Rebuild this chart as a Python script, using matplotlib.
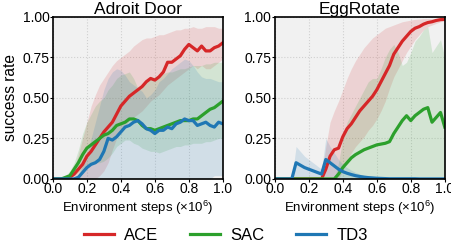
import numpy as np
from matplotlib import pyplot as plt

plt.rcParams['font.family'] = ['Liberation Sans', 'DejaVu Sans']
plt.rcParams['mathtext.fontset'] = 'custom'
plt.rcParams['mathtext.rm'] = 'Liberation Sans'
plt.rcParams['mathtext.it'] = 'Liberation Sans:italic'

# steps (x 1e6), same grid for every curve
steps = np.arange(41) * 0.025

# ---- Adroit Door ----
door_ace = [0, 0, 0, 0, 0.01, 0.03, 0.06, 0.09, 0.14, 0.17, 0.21, 0.25, 0.29, 0.32, 0.35, 0.40, 0.45, 0.48, 0.51, 0.53, 0.55,
            0.57, 0.60, 0.62, 0.61, 0.63, 0.66, 0.72, 0.72, 0.74, 0.76, 0.80, 0.83, 0.81, 0.79, 0.82, 0.79, 0.79, 0.81, 0.82, 0.84]
door_ace_hi = [0, 0, 0, 0, 0.02, 0.07, 0.15, 0.25, 0.35, 0.45, 0.52, 0.58, 0.62, 0.66, 0.70, 0.73, 0.75, 0.77, 0.79, 0.82, 0.84,
               0.86, 0.87, 0.87, 0.88, 0.89, 0.89, 0.90, 0.91, 0.92, 0.92, 0.93, 0.93, 0.94, 0.93, 0.93, 0.94, 0.94, 0.94, 0.93, 0.93]
door_ace_lo = [0, 0, 0, 0, 0, 0, 0, 0, 0, 0, 0, 0.02, 0.05, 0.10, 0.18, 0.25, 0.30, 0.33, 0.36, 0.38, 0.40,
               0.42, 0.45, 0.48, 0.50, 0.52, 0.55, 0.58, 0.60, 0.62, 0.64, 0.66, 0.68, 0.70, 0.68, 0.70, 0.68, 0.68, 0.70, 0.72, 0.74]

door_sac = [0, 0, 0, 0.01, 0.02, 0.06, 0.10, 0.15, 0.19, 0.21, 0.23, 0.25, 0.27, 0.28, 0.30, 0.33, 0.34, 0.35, 0.37, 0.37, 0.36,
            0.33, 0.31, 0.31, 0.30, 0.31, 0.32, 0.33, 0.34, 0.35, 0.36, 0.36, 0.36, 0.37, 0.37, 0.39, 0.41, 0.43, 0.44, 0.46, 0.48]
door_sac_hi = [0, 0, 0, 0.02, 0.05, 0.10, 0.18, 0.28, 0.35, 0.40, 0.45, 0.48, 0.50, 0.55, 0.58, 0.62, 0.64, 0.65, 0.66, 0.62, 0.56,
               0.58, 0.60, 0.62, 0.63, 0.64, 0.65, 0.66, 0.66, 0.67, 0.68, 0.68, 0.69, 0.70, 0.70, 0.70, 0.71, 0.71, 0.72, 0.72, 0.72]
door_sac_lo = [0, 0, 0, 0, 0, 0.02, 0.04, 0.06, 0.08, 0.09, 0.10, 0.10, 0.11, 0.13, 0.16, 0.20, 0.22, 0.24, 0.24, 0.22, 0.21,
               0.19, 0.18, 0.17, 0.17, 0.16, 0.17, 0.18, 0.19, 0.20, 0.20, 0.21, 0.21, 0.22, 0.22, 0.22, 0.23, 0.23, 0.24, 0.25, 0.25]

door_td3 = [0, 0, 0, 0, 0, 0, 0.01, 0.04, 0.07, 0.09, 0.10, 0.12, 0.17, 0.25, 0.24, 0.26, 0.29, 0.32, 0.33, 0.35, 0.36,
            0.34, 0.31, 0.30, 0.28, 0.30, 0.30, 0.32, 0.31, 0.34, 0.35, 0.37, 0.36, 0.36, 0.33, 0.34, 0.35, 0.33, 0.32, 0.35, 0.34]
door_td3_hi = [0, 0, 0, 0, 0, 0.01, 0.03, 0.08, 0.15, 0.25, 0.35, 0.45, 0.55, 0.62, 0.66, 0.68, 0.67, 0.64, 0.60, 0.58, 0.56,
               0.54, 0.50, 0.52, 0.55, 0.60, 0.62, 0.65, 0.68, 0.70, 0.72, 0.74, 0.73, 0.70, 0.66, 0.63, 0.62, 0.62, 0.61, 0.60, 0.60]
door_td3_lo = [0] * 38 + [0.02, 0.02, 0.02]

# ---- EggRotate ----
egg_ace = [0] * 12 + [0.06, 0.14, 0.18, 0.19, 0.26, 0.31, 0.34, 0.38, 0.42, 0.45, 0.48, 0.51, 0.55, 0.60, 0.65,
                      0.70, 0.77, 0.81, 0.85, 0.88, 0.91, 0.93, 0.94, 0.955, 0.965, 0.97, 0.978, 0.983, 0.985]
egg_ace_hi = [0] * 11 + [0.02, 0.20, 0.35, 0.42, 0.48, 0.55, 0.62, 0.68, 0.73, 0.77, 0.81, 0.84, 0.87, 0.89, 0.91, 0.93,
                         0.94, 0.95, 0.96, 0.97, 0.975, 0.98, 0.985, 0.987, 0.99, 0.99, 0.99, 0.99, 0.99, 0.99]
egg_ace_lo = [0] * 16 + [0.05, 0.12, 0.16, 0.20, 0.23, 0.26, 0.30, 0.33, 0.37, 0.42, 0.48, 0.56, 0.63, 0.68, 0.73,
                         0.78, 0.82, 0.86, 0.89, 0.92, 0.94, 0.95, 0.96, 0.97, 0.975]

egg_sac = [0] * 15 + [0.03, 0.07, 0.10, 0.13, 0.15, 0.165, 0.18, 0.19, 0.20, 0.21, 0.215, 0.22, 0.23, 0.28, 0.32,
                      0.36, 0.39, 0.36, 0.39, 0.41, 0.43, 0.44, 0.35, 0.38, 0.41, 0.32]
egg_sac_hi = [0] * 15 + [0.10, 0.25, 0.35, 0.40, 0.45, 0.50, 0.55, 0.60, 0.62, 0.62, 0.68, 0.75, 0.80, 0.83, 0.78,
                         0.70, 0.72, 0.78, 0.85, 0.88, 0.92, 0.94, 0.78, 0.82, 0.86, 0.75]
egg_sac_lo = [0] * 41

egg_td3 = [0] * 5 + [0.10, 0.085, 0.07, 0.06, 0.05, 0.04, 0.03, 0.12, 0.10, 0.08, 0.06, 0.045, 0.035, 0.027, 0.02,
                     0.015, 0.011, 0.008, 0.006, 0.004, 0.003, 0.002] + [0.001] * 7 + [0] * 7
egg_td3_hi = [0] * 5 + [0.20, 0.17, 0.14, 0.12, 0.10, 0.08, 0.06, 0.25, 0.20, 0.16, 0.12, 0.09, 0.07, 0.054, 0.04,
                        0.03, 0.022, 0.016, 0.012, 0.008, 0.006, 0.004] + [0] * 14
egg_td3_lo = [0] * 41

methods = ["ACE", "SAC", "TD3"]
colors = ["#d62728", "#2ca02c", "#1f77b4"]

panels = [
    ("Adroit Door", [(door_ace, door_ace_lo, door_ace_hi),
                     (door_sac, door_sac_lo, door_sac_hi),
                     (door_td3, door_td3_lo, door_td3_hi)]),
    ("EggRotate", [(egg_ace, egg_ace_lo, egg_ace_hi),
                   (egg_sac, egg_sac_lo, egg_sac_hi),
                   (egg_td3, egg_td3_lo, egg_td3_hi)]),
]

fig = plt.figure(figsize=(4.52, 2.52), dpi=100)
ax_left = [0.117, 0.608]

for i, (title, curves) in enumerate(panels):
    ax = fig.add_axes([ax_left[i], 0.29, 0.376, 0.643])
    ax.set_facecolor("#f1f1f1")
    ax.grid(True, color="#d0d0d0", linestyle=":", linewidth=0.8)
    ax.set_axisbelow(True)
    for (mean, lo, hi), c, name in zip(curves, colors, methods):
        ax.fill_between(steps, lo, hi, color=c, alpha=0.15, linewidth=0)
        ax.plot(steps, mean, color=c, linewidth=2.3, label=name)
    ax.set_xlim(0, 1)
    ax.set_ylim(0, 1)
    ax.set_xticks([0, 0.2, 0.4, 0.6, 0.8, 1.0])
    ax.set_yticks([0, 0.25, 0.5, 0.75, 1.0])
    ax.set_xticklabels(["0.0", "0.2", "0.4", "0.6", "0.8", "1.0"])
    ax.set_yticklabels(["0.00", "0.25", "0.50", "0.75", "1.00"])
    ax.tick_params(labelsize=10, length=2, pad=0.5)
    ax.set_title(title, fontsize=12.5, pad=2)
    ax.set_xlabel(r"Environment steps ($\times\mathregular{10^6}$)", fontsize=9.5, labelpad=1.5)
    for s in ax.spines.values():
        s.set_linewidth(1.2)
    if i == 0:
        ax.set_ylabel("success rate", fontsize=11.2, labelpad=3)

handles, labels = ax.get_legend_handles_labels()
fig.legend(handles, labels, loc="center", bbox_to_anchor=(0.5, 0.065), ncol=3, frameon=False,
           fontsize=12, handlelength=1.8, columnspacing=1.9, handletextpad=0.6)

plt.savefig("out.png", dpi=100)
